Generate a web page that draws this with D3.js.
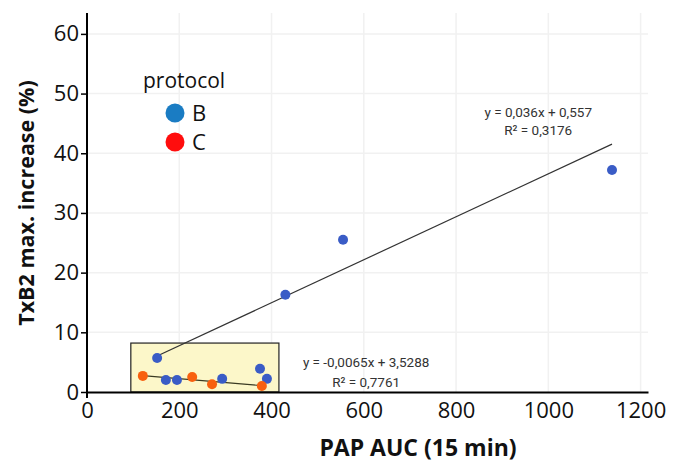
<!DOCTYPE html>
<html>
<head>
<meta charset="utf-8">
<script src="https://cdn.jsdelivr.net/npm/d3@7"></script>
<style>
  body { margin: 0; background: #fff; }
  svg { display: block; font-family: "Open Sans", sans-serif; }
</style>
</head>
<body>
<div id="chart"></div>
<script>
// Data
const bX = [152, 171, 195, 293, 375, 390, 430, 555, 1138];
const bY = [5.7, 2.0, 2.0, 2.2, 3.9, 2.2, 16.3, 25.5, 37.2];
const cX = [121, 228, 271, 379];
const cY = [2.7, 2.5, 1.3, 1.0];

// Linear fits shown on the chart
const fitB = { slope: 0.036, intercept: 0.557, label: "y = 0,036x + 0,557", r2: "R² = 0,3176" };
const fitC = { slope: -0.0065, intercept: 3.5288, label: "y = -0,0065x + 3,5288", r2: "R² = 0,7761" };

const xTicks = [0, 200, 400, 600, 800, 1000, 1200];
const yTicks = [0, 10, 20, 30, 40, 50, 60];

// Highlighted box around the low values
const boxX = [95, 416];
const boxY = [0, 8.2];

const width = 675, height = 464;

const svg = d3.select("#chart")
    .append("svg")
    .attr("width", width)
    .attr("height", height);

// Scales
const xScale = d3.scaleLinear().domain([0, 1216]).range([87, 648]);
const yScale = d3.scaleLinear().domain([0, 63.5]).range([392, 13]);

// Faint grid
svg.append("g")
    .selectAll("line.vgrid")
    .data(xTicks.slice(1))
    .enter()
    .append("line")
    .attr("x1", d => xScale(d))
    .attr("x2", d => xScale(d))
    .attr("y1", yScale(63.5))
    .attr("y2", yScale(0))
    .attr("stroke", "#f1f1f1")
    .attr("stroke-width", 1.5);

svg.append("g")
    .selectAll("line.hgrid")
    .data(yTicks.slice(1))
    .enter()
    .append("line")
    .attr("x1", xScale(0))
    .attr("x2", xScale(1216))
    .attr("y1", d => yScale(d))
    .attr("y2", d => yScale(d))
    .attr("stroke", "#f1f1f1")
    .attr("stroke-width", 1.5);

// Yellow box
svg.append("rect")
    .attr("x", xScale(boxX[0]))
    .attr("y", yScale(boxY[1]))
    .attr("width", xScale(boxX[1]) - xScale(boxX[0]))
    .attr("height", yScale(boxY[0]) - yScale(boxY[1]))
    .attr("fill", "#fcf7c9")
    .attr("stroke", "#222")
    .attr("stroke-width", 1.2);

// Trend lines
const line = d3.line()
    .x(d => xScale(d[0]))
    .y(d => yScale(d[1]));

function fitPoints(fit, xs) {
    const ext = d3.extent(xs);
    return ext.map(x => [x, fit.slope * x + fit.intercept]);
}

svg.append("path")
    .attr("d", line(fitPoints(fitB, bX)))
    .attr("fill", "none")
    .attr("stroke", "#333")
    .attr("stroke-width", 1.2);

svg.append("path")
    .attr("d", line(fitPoints(fitC, cX)))
    .attr("fill", "none")
    .attr("stroke", "#3a3a22")
    .attr("stroke-width", 1.2);

// Points
svg.append("g")
    .selectAll("circle")
    .data(bX.map((x, i) => [x, bY[i]]))
    .enter()
    .append("circle")
    .attr("cx", d => xScale(d[0]))
    .attr("cy", d => yScale(d[1]))
    .attr("r", 5)
    .attr("fill", "#3a5cc6");

svg.append("g")
    .selectAll("circle")
    .data(cX.map((x, i) => [x, cY[i]]))
    .enter()
    .append("circle")
    .attr("cx", d => xScale(d[0]))
    .attr("cy", d => yScale(d[1]))
    .attr("r", 5)
    .attr("fill", "#f8600f");

// Axes
const xAxis = svg.append("g")
    .attr("transform", `translate(0,${yScale(0)})`)
    .call(d3.axisBottom(xScale).tickValues(xTicks).tickFormat(d3.format("d"))
        .tickSize(0).tickPadding(10).tickSizeOuter(0));
xAxis.select(".domain")
    .attr("stroke", "#000")
    .attr("stroke-width", 2);
xAxis.selectAll("text")
    .style("font-size", "22px")
    .style("font-family", "Open Sans")
    .attr("fill", "#111");

const yAxis = svg.append("g")
    .attr("transform", `translate(${xScale(0)},0)`)
    .call(d3.axisLeft(yScale).tickValues(yTicks).tickSize(6).tickPadding(2).tickSizeOuter(0));
yAxis.select(".domain")
    .attr("stroke", "#000")
    .attr("stroke-width", 2)
    .attr("d", `M0,${yScale(63.5)}V${yScale(0) + 6}`);
yAxis.selectAll(".tick line")
    .attr("stroke", "#000")
    .attr("stroke-width", 1.5);
yAxis.selectAll("text")
    .style("font-size", "22px")
    .style("font-family", "Open Sans")
    .attr("fill", "#111");

// Axis titles
svg.append("text")
    .attr("x", 418)
    .attr("y", 456)
    .attr("text-anchor", "middle")
    .style("font-size", "23px")
    .style("font-weight", "bold")
    .attr("fill", "#111")
    .text("PAP AUC (15 min)");

svg.append("text")
    .attr("transform", "translate(34,203) rotate(-90)")
    .attr("text-anchor", "middle")
    .style("font-size", "21.5px")
    .style("font-weight", "bold")
    .attr("fill", "#111")
    .text("TxB2 max. increase (%)");

// Fit equations
function addEquation(fit, x, y1, y2) {
    svg.append("text")
        .attr("x", xScale(x))
        .attr("y", yScale(y1))
        .attr("text-anchor", "middle")
        .style("font-family", "Roboto")
        .style("font-size", "13.5px")
        .attr("fill", "#333")
        .text(fit.label);
    svg.append("text")
        .attr("x", xScale(x))
        .attr("y", yScale(y2))
        .attr("text-anchor", "middle")
        .style("font-family", "Roboto")
        .style("font-size", "13.5px")
        .attr("fill", "#333")
        .text(fit.r2);
}
addEquation(fitB, 978, 46.1, 43.1);
addEquation(fitC, 605, 4.2, 0.9);

// Legend
const legend = svg.append("g");
legend.append("text")
    .attr("x", 143)
    .attr("y", 88)
    .style("font-size", "21px")
    .attr("fill", "#111")
    .text("protocol");

const legendItems = [
    { label: "B", color: "#1a7cc3", y: 113 },
    { label: "C", color: "#ff0d0d", y: 142 }
];
legendItems.forEach(item => {
    legend.append("circle")
        .attr("cx", 175)
        .attr("cy", item.y)
        .attr("r", 9.5)
        .attr("fill", item.color);
    legend.append("text")
        .attr("x", 192)
        .attr("y", item.y)
        .attr("dy", "0.35em")
        .style("font-size", "22px")
        .attr("fill", "#111")
        .text(item.label);
});
</script>
</body>
</html>
